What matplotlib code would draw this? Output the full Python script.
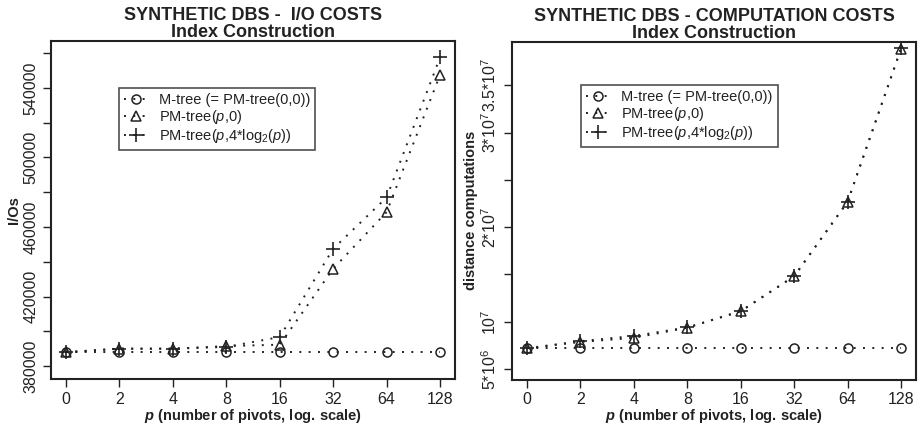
import numpy as np
import matplotlib
matplotlib.use("Agg")
import matplotlib.pyplot as plt

plt.rcParams['font.family'] = ['Liberation Sans', 'DejaVu Sans']
plt.rcParams['mathtext.fontset'] = 'custom'
plt.rcParams['mathtext.rm'] = 'Liberation Sans'
plt.rcParams['mathtext.it'] = 'Liberation Sans:italic'
plt.rcParams['mathtext.bf'] = 'Liberation Sans:bold'
plt.rcParams['mathtext.bfit'] = 'Liberation Sans:bold:italic'

# data
pivots = ["0", "2", "4", "8", "16", "32", "64", "128"]

io_mtree = [388000, 388000, 388000, 388000, 388000, 388000, 388000, 388000]
io_pm_p0 = [388000, 390000, 390000, 391500, 392300, 436000, 468600, 547500]
io_pm_plog = [388000, 390000, 390000, 391000, 396700, 447500, 477000, 557600]

dc_mtree = [7.2e6, 7.2e6, 7.2e6, 7.2e6, 7.2e6, 7.2e6, 7.2e6, 7.2e6]
dc_pm_p0 = [7.2e6, 7.86e6, 8.3e6, 9.37e6, 1.113e7, 1.482e7, 2.266e7, 3.884e7]
dc_pm_plog = [7.2e6, 7.95e6, 8.5e6, 9.4e6, 1.11e7, 1.48e7, 2.27e7, 3.89e7]

io_ticks = [380000, 400000, 420000, 440000, 460000, 480000, 500000, 520000, 540000, 560000]
io_ticklabels = ["380000", "", "420000", "", "460000", "", "500000", "", "540000", ""]
dc_ticks = [5e6, 1e7, 1.5e7, 2e7, 2.5e7, 3e7, 3.5e7]
dc_ticklabels = [r"5*10$^6$", r"10$^7$", "", r"2*10$^7$", "", r"3*10$^7$", r"3.5*10$^7$"]

labels = ["M-tree (= PM-tree(0,0))",
          r"PM-tree($p$,0)",
          r"PM-tree($p$,4*log$_2$($p$))"]

col = "#222222"
dots = (0, (1.0, 3.8))
x = np.arange(len(pivots))

fig = plt.figure(figsize=(9.23, 4.25), dpi=100)
ax1 = fig.add_axes([0.0553, 0.108, 0.4377, 0.7955])
ax2 = fig.add_axes([0.5547, 0.106, 0.4377, 0.7957])


def draw(ax, ys, ticks, ticklabels, ylim, ylabel, title, legpos):
    mk = [dict(marker='o', ms=6.5, mfc='none', mew=1.1),
          dict(marker='^', ms=7.5, mfc='none', mew=1.1),
          dict(marker='+', ms=10, mew=1.2)]
    for y, m, lab in zip(ys, mk, labels):
        ax.plot(x, y, color=col, ls=dots, lw=1.4, label=lab, **m)
    ax.set_xlim(-0.28, 7.28)
    ax.set_ylim(*ylim)
    ax.set_xticks(x)
    ax.set_xticklabels(pivots)
    ax.set_yticks(ticks)
    ax.set_yticklabels(ticklabels, rotation=90, va='center')
    ax.tick_params(direction='out', length=6, width=1.0, colors=col,
                   labelsize=11.5, pad=3)
    for s in ax.spines.values():
        s.set_linewidth(1.5)
        s.set_color(col)
    ax.set_xlabel(r"$\mathbfit{p}$ (number of pivots, log. scale)",
                  fontsize=10.5, fontweight='bold', color=col, labelpad=0)
    ax.set_ylabel(ylabel, fontsize=10.5, fontweight='bold', color=col, labelpad=2)
    ax.set_title(title, fontsize=13, fontweight='bold', color=col,
                 linespacing=0.95, pad=3)
    leg = ax.legend(loc='upper left', bbox_to_anchor=legpos, frameon=True,
                    fancybox=False, edgecolor=col, fontsize=10.5,
                    handlelength=1.6, handletextpad=0.8, borderpad=0.35,
                    labelspacing=0.05, borderaxespad=0)
    leg.get_frame().set_linewidth(1.2)
    for t in leg.get_texts():
        t.set_color(col)


draw(ax1, [io_mtree, io_pm_p0, io_pm_plog], io_ticks, io_ticklabels,
     (372500, 567000), "I/Os",
     "SYNTHETIC DBS -  I/O COSTS\nIndex Construction", (0.168, 0.86))
draw(ax2, [dc_mtree, dc_pm_p0, dc_pm_plog], dc_ticks, dc_ticklabels,
     (3.85e6, 3.96e7), "distance computations",
     "SYNTHETIC DBS - COMPUTATION COSTS\nIndex Construction", (0.171, 0.872))

fig.savefig("out.png", dpi=100)
